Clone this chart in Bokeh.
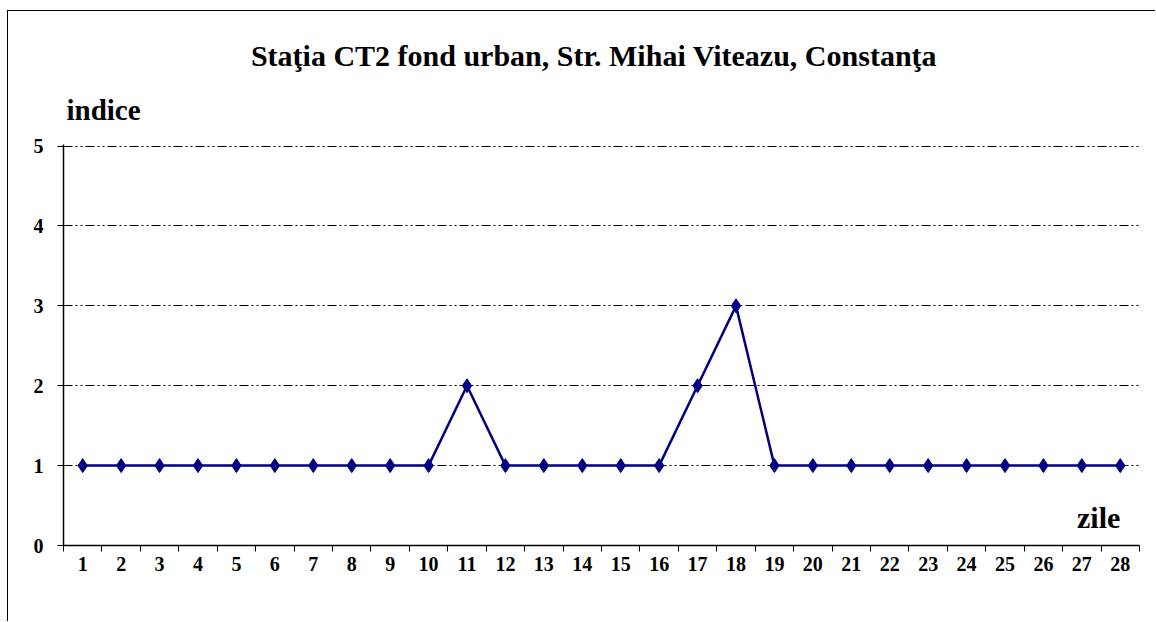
from bokeh.plotting import figure
from bokeh.models import FixedTicker, Range1d, Label, Title
from bokeh.embed import file_html
from bokeh.resources import INLINE

days = list(range(1, 29))
indice = [1, 1, 1, 1, 1, 1, 1, 1, 1, 1, 2, 1, 1, 1, 1, 1, 2, 3, 1, 1, 1, 1, 1, 1, 1, 1, 1, 1]
y_ticks = [0, 1, 2, 3, 4, 5]
title_text = "Staţia CT2 fond urban,  Str. Mihai  Viteazu, Constanţa"

FONT = "Liberation Serif"
NAVY = "#000080"

p = figure(width=1148, height=611, output_backend="svg", toolbar_location=None,
           x_range=Range1d(0.5, 28.5), y_range=Range1d(0, 5.02), title=None,
           min_border_left=55, min_border_right=17, min_border_top=133, min_border_bottom=77)
p.styles = {"border-left": "1px solid black", "border-top": "1px solid black",
            "margin-left": "7px", "margin-top": "10px"}
p.outline_line_color = None
p.background_fill_color = "white"
p.border_fill_color = "white"

# x axis: labels at categories, tick marks between
p.xaxis.ticker = FixedTicker(ticks=days, minor_ticks=[d - 0.5 for d in days] + [28.5])
p.xaxis.major_tick_line_color = None
p.xaxis.minor_tick_line_color = "black"
p.xaxis.minor_tick_out = 6
p.xaxis.minor_tick_in = 0
p.xaxis.axis_line_color = "black"
p.xaxis.axis_line_width = 1.5
p.xaxis.major_label_text_font = FONT
p.xaxis.major_label_text_font_style = "bold"
p.xaxis.major_label_text_font_size = "20px"
p.xaxis.major_label_text_color = "black"
p.xaxis.major_label_standoff = 5

p.yaxis.ticker = FixedTicker(ticks=y_ticks)
p.yaxis.major_tick_out = 6
p.yaxis.major_tick_in = 0
p.yaxis.minor_tick_line_color = None
p.yaxis.axis_line_color = "black"
p.yaxis.axis_line_width = 1.5
p.yaxis.major_label_text_font = FONT
p.yaxis.major_label_text_font_style = "bold"
p.yaxis.major_label_text_font_size = "20px"
p.yaxis.major_label_text_color = "black"
p.yaxis.major_label_standoff = 14

p.xgrid.grid_line_color = None
p.ygrid.grid_line_color = "black"
p.ygrid.grid_line_width = 1
p.ygrid.grid_line_dash = "9 3 2 3 2 3"

p.line(days, indice, line_color=NAVY, line_width=2.5)
p.scatter(days, indice, marker="diamond", size=14, fill_color=NAVY, line_color=NAVY)

p.add_layout(Title(text="indice", text_font=FONT, text_font_style="bold", text_font_size="29px",
                   align="left", offset=3, standoff=37, text_color="black"), "above")
p.add_layout(Title(text=title_text, text_font=FONT, text_font_style="bold", text_font_size="30px",
                   align="center", standoff=4, text_color="black"), "above")
p.add_layout(Label(x=28.0, y=0.35, text="zile", text_font=FONT, text_font_style="bold",
                   text_font_size="30px", text_align="right", text_baseline="middle", text_color="black"))

open("out.html", "w").write(file_html(p, INLINE))
